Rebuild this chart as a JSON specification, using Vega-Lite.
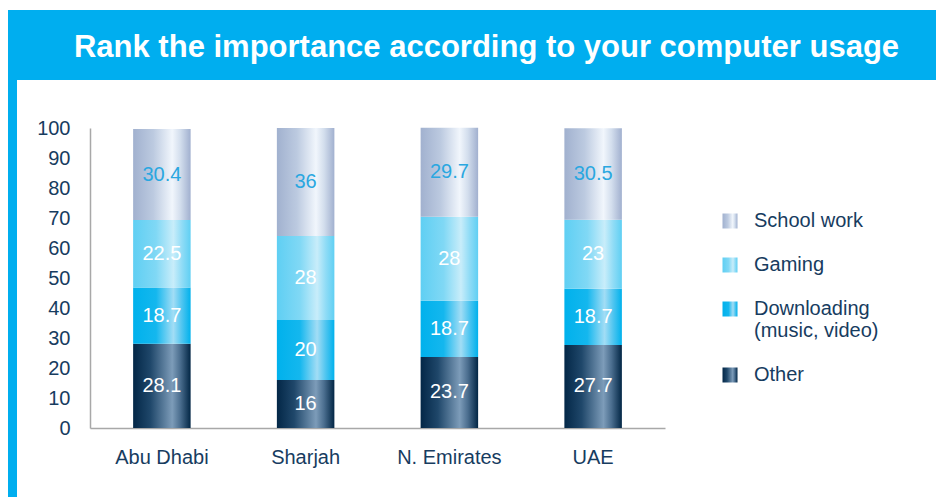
{
  "$schema": "https://vega.github.io/schema/vega-lite/v6.json",
  "background": "#ffffff",
  "padding": {"left": 8, "top": 10, "right": 0, "bottom": 0},
  "config": {"font": "Liberation Sans", "view": {"stroke": null}},
  "columns": 2,
  "align": "none",
  "spacing": 0,
  "concat": [
    {
      "width": 9,
      "height": 70,
      "view": {"fill": "#00aeef", "stroke": null},
      "data": {"values": []},
      "mark": "rect",
      "encoding": {}
    },
    {
      "width": 919,
      "height": 70,
      "view": {"fill": "#00aeef", "stroke": null},
      "data": {"values": [{"title": "Rank the importance according to your computer usage"}]},
      "mark": {"type": "text", "font": "Liberation Sans", "fontSize": 31, "fontWeight": "bold", "color": "#ffffff", "baseline": "alphabetic", "align": "center", "dx": 10, "dy": 12},
      "encoding": {"text": {"field": "title", "type": "nominal"}}
    },
    {
      "width": 9,
      "height": 417,
      "view": {"fill": "#00aeef", "stroke": null},
      "data": {"values": []},
      "mark": "rect",
      "encoding": {}
    },
    {
      "width": 575,
      "height": 300,
      "title": {"text": " ", "fontSize": 2, "offset": 36},
      "view": {"stroke": null},
      "data": {
        "values": [
          {"region": "Abu Dhabi", "category": "Other", "stack": 1, "value": 28.1},
          {"region": "Abu Dhabi", "category": "Downloading (music, video)", "stack": 2, "value": 18.7},
          {"region": "Abu Dhabi", "category": "Gaming", "stack": 3, "value": 22.5},
          {"region": "Abu Dhabi", "category": "School work", "stack": 4, "value": 30.4},
          {"region": "Sharjah", "category": "Other", "stack": 1, "value": 16},
          {"region": "Sharjah", "category": "Downloading (music, video)", "stack": 2, "value": 20},
          {"region": "Sharjah", "category": "Gaming", "stack": 3, "value": 28},
          {"region": "Sharjah", "category": "School work", "stack": 4, "value": 36},
          {"region": "N. Emirates", "category": "Other", "stack": 1, "value": 23.7},
          {"region": "N. Emirates", "category": "Downloading (music, video)", "stack": 2, "value": 18.7},
          {"region": "N. Emirates", "category": "Gaming", "stack": 3, "value": 28},
          {"region": "N. Emirates", "category": "School work", "stack": 4, "value": 29.7},
          {"region": "UAE", "category": "Other", "stack": 1, "value": 27.7},
          {"region": "UAE", "category": "Downloading (music, video)", "stack": 2, "value": 18.7},
          {"region": "UAE", "category": "Gaming", "stack": 3, "value": 23},
          {"region": "UAE", "category": "School work", "stack": 4, "value": 30.5}
        ]
      },
      "encoding": {
        "x": {
          "field": "region",
          "type": "nominal",
          "sort": ["Abu Dhabi", "Sharjah", "N. Emirates", "UAE"],
          "scale": {"paddingInner": 0.6, "paddingOuter": 0.3},
          "axis": {"title": null, "labelAngle": 0, "ticks": false, "labelFontSize": 20, "labelColor": "#173c5f", "labelPadding": 19, "domainColor": "#a8a8a8", "domainWidth": 1.5, "grid": false}
        },
        "y": {
          "field": "value",
          "type": "quantitative",
          "stack": "zero",
          "scale": {"domain": [0, 100], "nice": false},
          "axis": {"title": null, "values": [0, 10, 20, 30, 40, 50, 60, 70, 80, 90, 100], "ticks": false, "grid": false, "labelFontSize": 20, "labelColor": "#173c5f", "labelPadding": 20, "domainColor": "#a8a8a8", "domainWidth": 1.5, "minExtent": 73}
        },
        "order": {"field": "stack", "type": "quantitative"}
      },
      "layer": [
        {
          "mark": {"type": "bar"},
          "encoding": {
            "color": {
              "field": "category",
              "type": "nominal",
              "scale": {
                "domain": ["School work", "Gaming", "Downloading (music, video)", "Other"],
                "range": [
                  {"expr": "{gradient: 'linear', x1: 0, y1: 0, x2: 1, y2: 0, stops: [{offset: 0, color: '#a1b1cf'}, {offset: 0.35, color: '#bccae0'}, {offset: 0.68, color: '#f1f6fc'}, {offset: 0.82, color: '#d3deed'}, {offset: 1, color: '#a1b0cf'}]}"},
                  {"expr": "{gradient: 'linear', x1: 0, y1: 0, x2: 1, y2: 0, stops: [{offset: 0, color: '#5fcff3'}, {offset: 0.4, color: '#80d8f5'}, {offset: 0.7, color: '#c8edfa'}, {offset: 0.85, color: '#90dcf6'}, {offset: 1, color: '#5fcff3'}]}"},
                  {"expr": "{gradient: 'linear', x1: 0, y1: 0, x2: 1, y2: 0, stops: [{offset: 0, color: '#00b1ec'}, {offset: 0.4, color: '#14b7ee'}, {offset: 0.7, color: '#a2ddf5'}, {offset: 0.85, color: '#4ec5f0'}, {offset: 1, color: '#00b1ec'}]}"},
                  {"expr": "{gradient: 'linear', x1: 0, y1: 0, x2: 1, y2: 0, stops: [{offset: 0, color: '#032747'}, {offset: 0.3, color: '#1f476a'}, {offset: 0.68, color: '#7d9cb9'}, {offset: 0.82, color: '#4b6e8f'}, {offset: 1, color: '#022645'}]}"}
                ]
              },
              "legend": {
                "title": null,
                "orient": "none",
                "legendX": 712,
                "legendY": 201,
                "padding": 0,
                "symbolType": "square",
                "symbolSize": 225,
                "symbolStrokeWidth": 0,
                "symbolOpacity": 1,
                "labelFontSize": 20,
                "labelColor": "#173c5f",
                "labelOffset": 14,
                "labelLimit": 300,
                "labelLineHeight": 23,
                "rowPadding": 24,
                "labelExpr": "datum.label == 'Downloading (music, video)' ? ['Downloading', ' (music, video)'] : datum.label"
              }
            }
          }
        },
        {
          "mark": {"type": "text", "fontSize": 20, "baseline": "middle", "align": "center"},
          "encoding": {
            "y": {"field": "value", "type": "quantitative", "stack": "zero", "bandPosition": 0.5},
            "detail": {"field": "category", "type": "nominal"},
            "text": {"field": "value", "type": "quantitative"},
            "color": {"condition": {"test": "datum.category === 'School work'", "value": "#2aa7e0"}, "value": "#ffffff"}
          }
        }
      ]
    }
  ]
}
